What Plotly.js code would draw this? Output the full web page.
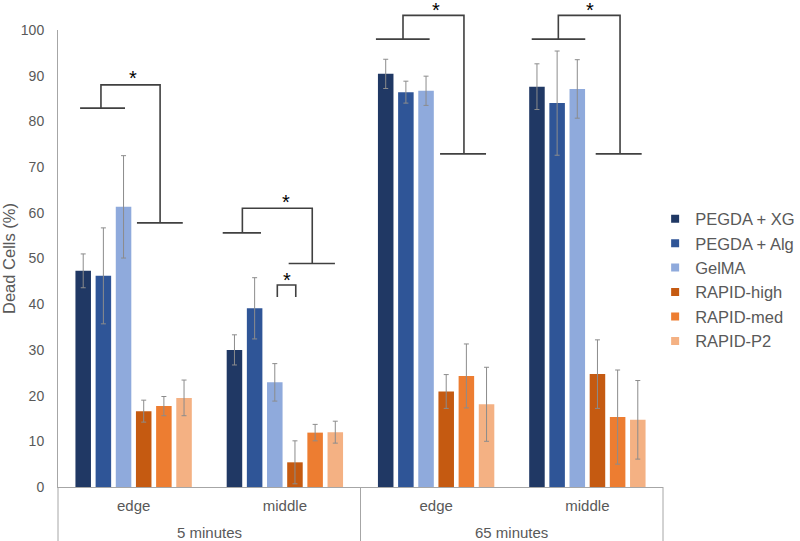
<!DOCTYPE html>
<html><head><meta charset="utf-8">
<script src="https://cdn.plot.ly/plotly-3.0.1.min.js"></script>
<style>body{margin:0;background:#fff}</style></head>
<body><div id="chart" style="width:800px;height:541px"></div>
<script>
// ---- data ----
const timeGroups = ['5 minutes', '5 minutes', '65 minutes', '65 minutes'];
const locations = ['edge', 'middle', 'edge', 'middle'];
const seriesNames = ['PEGDA + XG', 'PEGDA + Alg', 'GelMA', 'RAPID-high', 'RAPID-med', 'RAPID-P2'];
const seriesColors = ['#203864', '#2F5597', '#8FAADC', '#C55A11', '#ED7D31', '#F4B183'];
const pegdaXG = [47.3, 30.0, 90.4, 87.6];
const pegdaXGErr = [3.7, 3.3, 3.2, 5.0];
const pegdaAlg = [46.2, 39.1, 86.4, 84.0];
const pegdaAlgErr = [10.5, 6.7, 2.4, 11.4];
const gelma = [61.3, 22.9, 86.7, 87.1];
const gelmaErr = [11.2, 4.1, 3.2, 6.4];
const rapidHigh = [16.6, 5.4, 20.9, 24.7];
const rapidHighErr = [2.4, 4.7, 3.7, 7.5];
const rapidMed = [17.7, 11.9, 24.3, 15.3];
const rapidMedErr = [2.1, 1.8, 7.0, 10.3];
const rapidP2 = [19.5, 12.0, 18.1, 14.7];
const rapidP2Err = [3.9, 2.4, 8.1, 8.6];
const yTicks = [0, 10, 20, 30, 40, 50, 60, 70, 80, 90, 100];

// significance brackets: polylines in (category index, % value) units
const brackets = [
  [[[-0.354, 82.9], [-0.057, 82.9]], [[-0.216, 82.9], [-0.216, 88.0], [0.175, 88.0], [0.175, 57.8]], [[0.022, 57.8], [0.325, 57.8]]],
  [[[0.589, 55.6], [0.842, 55.6]], [[0.719, 55.6], [0.719, 61.0], [1.181, 61.0], [1.181, 48.9]], [[1.025, 48.9], [1.331, 48.9]]],
  [[[0.950, 41.6], [0.950, 44.2], [1.072, 44.2], [1.072, 41.6]]],
  [[[1.602, 98.0], [1.957, 98.0]], [[1.781, 98.0], [1.781, 103.2], [2.184, 103.2], [2.184, 72.9]], [[2.026, 72.9], [2.330, 72.9]]],
  [[[2.632, 98.0], [2.986, 98.0]], [[2.808, 98.0], [2.808, 103.2], [3.216, 103.2], [3.216, 72.9]], [[3.055, 72.9], [3.359, 72.9]]]
];
const stars = [[-0.004, 90.6], [1.007, 63.5], [1.012, 46.4], [1.997, 105.5], [3.019, 105.5]];

// ---- chart ----
const values = [pegdaXG, pegdaAlg, gelma, rapidHigh, rapidMed, rapidP2];
const errors = [pegdaXGErr, pegdaAlgErr, gelmaErr, rapidHighErr, rapidMedErr, rapidP2Err];
const nCat = locations.length;
const catIdx = locations.map((_, i) => i);
const yMax = 100;
const plotH = 541 - 30 - 54;
const px = x => (x + 0.5) / nCat;
const py = y => y / yMax;
const FONT = 'Arial, "Liberation Sans", sans-serif';
const GRAY = '#595959';
const LINE = '#a6a6a6';

const traces = [];
seriesNames.forEach((name, i) => {
  traces.push({
    type: 'bar', name: name, x: catIdx, y: values[i], showlegend: false,
    marker: {color: seriesColors[i]},
    error_y: {type: 'data', array: errors[i], visible: true, color: '#8c8c8c', thickness: 1, width: 2.5}
  });
});
// legend entries with small square keys
seriesNames.forEach((name, i) => {
  traces.push({
    type: 'scatter', mode: 'markers', name: name, x: [null], y: [null],
    marker: {symbol: 'square', size: 8, color: seriesColors[i]}, legendgroup: 'g' + i
  });
});

const shapes = [];
brackets.forEach(b => b.forEach(line => {
  const d = line.map((p, k) => (k === 0 ? 'M' : 'L') + px(p[0]).toFixed(5) + ',' + py(p[1]).toFixed(5)).join(' ');
  shapes.push({type: 'path', xref: 'paper', yref: 'paper', path: d, line: {color: '#404040', width: 1.6}});
}));
// multi-level category box dividers (edges of the two time groups)
const groupNames = [...new Set(timeGroups)];
const boundaries = [-0.5];
groupNames.forEach(g => boundaries.push(timeGroups.lastIndexOf(g) + 0.5));
boundaries.forEach(b => shapes.push({type: 'line', xref: 'paper', yref: 'paper', x0: px(b), x1: px(b), y0: 0, y1: -54 / plotH,
  line: {color: LINE, width: 1}}));

const annotations = stars.map(s => ({
  xref: 'paper', yref: 'paper', x: px(s[0]), y: py(s[1]), text: '*', showarrow: false,
  font: {family: FONT, size: 20, color: '#000'}, xanchor: 'center', yanchor: 'middle', yshift: -5
}));
groupNames.forEach(g => {
  const first = timeGroups.indexOf(g), last = timeGroups.lastIndexOf(g);
  annotations.push({xref: 'paper', yref: 'paper', x: px((first + last) / 2), y: -45 / plotH, text: g, showarrow: false,
    font: {family: FONT, size: 15, color: GRAY}, xanchor: 'center', yanchor: 'middle'});
});

const layout = {
  width: 800, height: 541,
  margin: {l: 58, r: 137, t: 30, b: 54, autoexpand: false},
  paper_bgcolor: '#fff', plot_bgcolor: '#fff',
  font: {family: FONT, color: GRAY, size: 14},
  barmode: 'group', bargap: 0.2, bargroupgap: 0.23,
  showlegend: true,
  legend: {x: 0.987, xanchor: 'left', y: 0.453, yanchor: 'middle', font: {size: 16.5, color: GRAY}, tracegroupgap: 0, bgcolor: 'rgba(0,0,0,0)'},
  xaxis: {range: [-0.5, nCat - 0.5], tickvals: catIdx, ticktext: locations, showline: true, linecolor: LINE, linewidth: 1,
          ticks: '', showgrid: false, zeroline: false, ticklabelstandoff: 5, tickfont: {size: 15, color: GRAY}},
  yaxis: {range: [0, yMax], tickvals: yTicks, showline: true, linecolor: LINE, linewidth: 1, showgrid: false, zeroline: false,
          ticks: '', ticklabelstandoff: 10, tickfont: {size: 14, color: GRAY},
          title: {text: 'Dead Cells (%)', font: {size: 16.5, color: GRAY}}},
  shapes: shapes,
  annotations: annotations
};
Plotly.newPlot('chart', traces, layout, {displayModeBar: false, staticPlot: true});
</script></body></html>
